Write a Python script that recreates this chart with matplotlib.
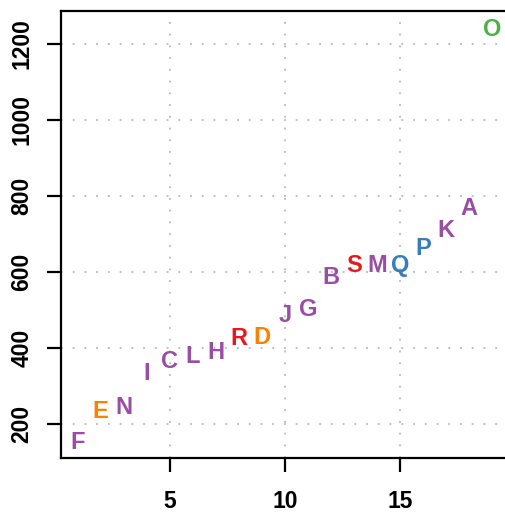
import matplotlib
matplotlib.use("Agg")
from matplotlib import pyplot as plt

plt.rcParams["font.family"] = ["Liberation Sans", "DejaVu Sans"]

labels = ["F", "E", "N", "I", "C", "L", "H", "R", "D", "J",
          "G", "B", "S", "M", "Q", "P", "K", "A", "O"]
xs = list(range(1, 20))
ys = [150, 232, 243, 332, 364, 377, 387, 424, 427, 485,
      501, 585, 616, 616, 616, 661, 709, 766, 1237]
groups = ["p", "o", "p", "p", "p", "p", "p", "r", "o", "p",
          "p", "p", "r", "p", "b", "b", "p", "p", "g"]
colores = {"p": "#984EA3", "o": "#FF7F00", "r": "#E41A1C",
           "b": "#377EB8", "g": "#4DAF4A"}

fig = plt.figure(figsize=(5.06, 5.14), dpi=100)
ax = fig.add_axes([61/506, 56/514, 452/506, 447/514])

for x, y, t, g in zip(xs, ys, labels, groups):
    ax.text(x, y, t, color=colores[g], fontsize=17, fontweight="bold",
            ha="center", va="center")

ax.set_xlim(0.28, 19.9)
ax.set_ylim(110, 1287)
ax.set_xticks([5, 10, 15])
ax.set_yticks([200, 400, 600, 800, 1000, 1200])
ax.grid(True, color="#b8b8b8", linestyle=(0, (1, 5.5)), linewidth=1.3)
ax.set_axisbelow(True)
for s in ax.spines.values():
    s.set_linewidth(1.6)
ax.tick_params(direction="out", length=10, width=1.6, labelsize=16.5)
ax.tick_params(axis="x", pad=13)
ax.tick_params(axis="y", pad=10)
for lb in ax.get_xticklabels():
    lb.set_fontweight("bold")
for lb in ax.get_yticklabels():
    lb.set_fontweight("bold")
    lb.set_rotation(90)
    lb.set_va("center")

fig.savefig("out.png", dpi=100)
